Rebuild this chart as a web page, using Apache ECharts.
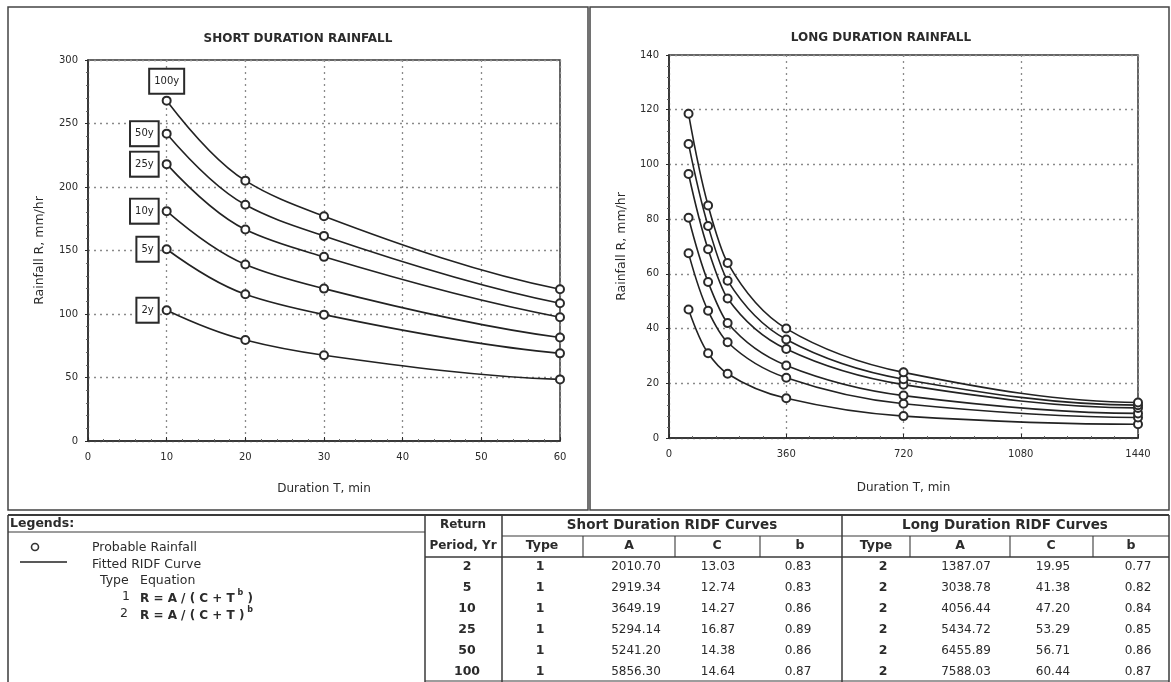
<!DOCTYPE html>
<html>
<head>
<meta charset="utf-8">
<script src="https://cdn.jsdelivr.net/npm/echarts@6/dist/echarts.min.js"></script>
<style>
  html, body { margin: 0; padding: 0; background: #fff; }
  #chart { width: 1171px; height: 682px; }
</style>
</head>
<body>
<div id="chart"></div>
<script>
// Return periods (years) and their curve labels
const periods = ['2y', '5y', '10y', '25y', '50y', '100y'];

// Short duration: durations (min) and probable rainfall intensity (mm/hr)
const shortT = [10, 20, 30, 60];
const short2y   = [103, 79.5, 67.5, 48.5];
const short5y   = [151, 115.5, 99.5, 69];
const short10y  = [181, 139, 120, 81.5];
const short25y  = [218, 166.5, 145, 97.5];
const short50y  = [242, 186, 161.5, 108.5];
const short100y = [268, 205, 177, 119.5];

// Long duration: durations (min) and probable rainfall intensity (mm/hr)
const longT = [60, 120, 180, 360, 720, 1440];
const long2y   = [47, 31, 23.5, 14.5, 8, 5];
const long5y   = [67.5, 46.5, 35, 22, 12.5, 7.5];
const long10y  = [80.5, 57, 42, 26.5, 15.5, 9];
const long25y  = [96.5, 69, 51, 32.5, 19.5, 11];
const long50y  = [107.5, 77.5, 57.5, 36, 21.5, 12];
const long100y = [118.5, 85, 64, 40, 24, 13];

// RIDF coefficient table
const returnPeriods = ['2', '5', '10', '25', '50', '100'];
const shortType = ['1', '1', '1', '1', '1', '1'];
const shortA = ['2010.70', '2919.34', '3649.19', '5294.14', '5241.20', '5856.30'];
const shortC = ['13.03', '12.74', '14.27', '16.87', '14.38', '14.64'];
const shortB = ['0.83', '0.83', '0.86', '0.89', '0.86', '0.87'];
const longType = ['2', '2', '2', '2', '2', '2'];
const longA = ['1387.07', '3038.78', '4056.44', '5434.72', '6455.89', '7588.03'];
const longC = ['19.95', '41.38', '47.20', '53.29', '56.71', '60.44'];
const longB = ['0.77', '0.82', '0.84', '0.85', '0.86', '0.87'];

const shortSets = [short2y, short5y, short10y, short25y, short50y, short100y];
const longSets = [long2y, long5y, long10y, long25y, long50y, long100y];

const FONT = '"DejaVu Sans", "Liberation Sans", sans-serif';
const INK = '#2b2b2b';
const GRID_LINE = '#8a8a8a';

function axisX(min, max, interval, gridIndex, nameGap) {
  return {
    type: 'value', gridIndex, min, max, interval,
    name: 'Duration T, min', nameLocation: 'middle', nameGap,
    nameTextStyle: { fontFamily: FONT, fontSize: 12, color: INK },
    axisLine: { show: true, lineStyle: { color: INK, width: 1.5 } },
    axisTick: { show: true, inside: true, length: 4, lineStyle: { color: INK } },
    minorTick: { show: true, splitNumber: 5, length: 2, lineStyle: { color: '#666' } },
    axisLabel: { fontFamily: FONT, fontSize: 10, color: INK, margin: 11, formatter: v => String(v) },
    splitLine: { show: true, lineStyle: { type: [2, 4], color: GRID_LINE, width: 1.3 } }
  };
}

function axisY(min, max, interval, gridIndex, nameGap) {
  return {
    type: 'value', gridIndex, min, max, interval,
    name: 'Rainfall R, mm/hr', nameLocation: 'middle', nameGap,
    nameTextStyle: { fontFamily: FONT, fontSize: 12.5, color: INK },
    axisLine: { show: true, lineStyle: { color: INK, width: 1.5 } },
    axisTick: { show: true, inside: false, length: 3, lineStyle: { color: INK } },
    minorTick: { show: true, splitNumber: 5, length: 2, lineStyle: { color: '#666' } },
    axisLabel: { fontFamily: FONT, fontSize: 10, color: INK, margin: 10, formatter: v => String(v) },
    splitLine: { show: true, lineStyle: { type: [2, 4], color: GRID_LINE, width: 1.3 } }
  };
}

// Monotone cubic (Fritsch-Carlson) path through the given pixel points
function monotonePath(p) {
  const n = p.length;
  const h = [], d = [];
  for (let i = 0; i < n - 1; i++) {
    h.push(p[i + 1][0] - p[i][0]);
    d.push((p[i + 1][1] - p[i][1]) / h[i]);
  }
  const m = new Array(n);
  for (let i = 1; i < n - 1; i++) {
    if (d[i - 1] * d[i] <= 0) { m[i] = 0; continue; }
    const w1 = 2 * h[i] + h[i - 1], w2 = h[i] + 2 * h[i - 1];
    m[i] = (w1 + w2) / (w1 / d[i - 1] + w2 / d[i]);
  }
  const endSlope = (h0, h1, d0, d1) => {
    let s = ((2 * h0 + h1) * d0 - h0 * d1) / (h0 + h1);
    if (Math.sign(s) !== Math.sign(d0)) s = 0;
    else if (Math.sign(d0) !== Math.sign(d1) && Math.abs(s) > Math.abs(3 * d0)) s = 3 * d0;
    return s;
  };
  m[0] = n > 2 ? endSlope(h[0], h[1], d[0], d[1]) : d[0];
  m[n - 1] = n > 2 ? endSlope(h[n - 2], h[n - 3], d[n - 2], d[n - 3]) : d[n - 2];
  let s = 'M' + p[0][0] + ' ' + p[0][1];
  for (let i = 0; i < n - 1; i++) {
    const k = h[i] / 3;
    s += ' C' + (p[i][0] + k) + ' ' + (p[i][1] + m[i] * k) + ' ' +
         (p[i + 1][0] - k) + ' ' + (p[i + 1][1] - m[i + 1] * k) + ' ' +
         p[i + 1][0] + ' ' + p[i + 1][1];
  }
  return s;
}

// fitted curve drawn through the points with the grid's own scales
function curveSeries(tArr, vals, gi, name) {
  return {
    type: 'custom', name, xAxisIndex: gi, yAxisIndex: gi,
    data: tArr.map((t, i) => [t, vals[i]]),
    encode: { x: 0, y: 1 },
    renderItem: (params, api) => {
      if (params.dataIndex !== 0) return null;
      const pts = tArr.map((t, i) => api.coord([t, vals[i]]));
      return {
        type: 'path',
        shape: { pathData: monotonePath(pts) },
        style: { fill: 'none', stroke: '#222', lineWidth: 1.6 }
      };
    },
    z: 2, silent: true, animation: false
  };
}

// probable rainfall points (open circles), short chart carries the period tags
function pointSeries(tArr, vals, gi, name, tag) {
  const data = tArr.map((t, i) => {
    const item = { value: [t, vals[i]] };
    if (tag && i === 0) {
      item.label = {
        show: true,
        formatter: tag,
        position: tag === '100y' ? 'top' : 'left',
        distance: tag === '100y' ? 3 : 4,
        fontFamily: FONT, fontSize: 10, color: '#222',
        backgroundColor: '#fff',
        borderColor: '#2a2a2a', borderWidth: 2,
        padding: [7, 4, 6, 4]
      };
    }
    return item;
  });
  return {
    type: 'scatter', name, xAxisIndex: gi, yAxisIndex: gi,
    data, symbol: 'emptyCircle', symbolSize: 8,
    itemStyle: { color: '#2a2a2a', borderWidth: 1.6, opacity: 1 },
    z: 3, silent: true, animation: false
  };
}

const series = [];
periods.forEach((p, k) => {
  series.push(curveSeries(shortT, shortSets[k], 0, 'short fit ' + p));
  series.push(pointSeries(shortT, shortSets[k], 0, 'short ' + p, p));
});
periods.forEach((p, k) => {
  series.push(curveSeries(longT, longSets[k], 1, 'long fit ' + p));
  series.push(pointSeries(longT, longSets[k], 1, 'long ' + p, null));
});

// ---------- frames, titles, legend and coefficient table ----------
const g = [];
const line = (x1, y1, x2, y2, w, c) => g.push({
  type: 'line', silent: true,
  shape: { x1, y1, x2, y2 },
  style: { stroke: c || '#3a3a3a', lineWidth: w || 1.2 }
});
const text = (x, y, s, opt) => g.push({
  type: 'text', silent: true, x, y,
  style: Object.assign({
    text: s, fontFamily: FONT, fontSize: 12, fill: INK,
    align: 'center', verticalAlign: 'middle'
  }, opt || {})
});

// chart panels
g.push({ type: 'rect', silent: true, shape: { x: 8, y: 7, width: 580, height: 503 },
  style: { fill: 'none', stroke: '#444', lineWidth: 1.5 } });
g.push({ type: 'rect', silent: true, shape: { x: 590, y: 7, width: 579, height: 503 },
  style: { fill: 'none', stroke: '#444', lineWidth: 1.5 } });

text(298, 39, 'SHORT DURATION RAINFALL', { fontSize: 12, fontWeight: 'bold' });
text(881, 38, 'LONG DURATION RAINFALL', { fontSize: 12, fontWeight: 'bold' });

// bottom block outline
line(8, 515, 1169, 515, 2);
line(8, 515, 8, 682, 1.5);
line(425, 515, 425, 682, 1.5);
line(1169, 515, 1169, 682, 1.5);

// legend
text(10, 524, 'Legends:', { align: 'left', fontWeight: 'bold', fontSize: 12.5 });
line(8, 532, 425, 532, 1.2);
g.push({ type: 'circle', silent: true, shape: { cx: 35, cy: 547, r: 3.5 },
  style: { fill: '#fff', stroke: '#333', lineWidth: 1.6 } });
text(92, 548, 'Probable Rainfall', { align: 'left', fontSize: 12.5 });
line(20, 562, 67, 562, 1.6, '#222');
text(92, 565, 'Fitted RIDF Curve', { align: 'left', fontSize: 12.5 });
text(100, 581, 'Type', { align: 'left', fontSize: 12.5 });
text(140, 581, 'Equation', { align: 'left', fontSize: 12.5 });
text(126, 597, '1', { fontSize: 12.5 });
text(124, 614, '2', { fontSize: 12.5 });
const eqRich = {
  m: { fontFamily: FONT, fontSize: 12, fontWeight: 'bold', fill: INK, lineHeight: 16, verticalAlign: 'bottom' },
  s: { fontFamily: FONT, fontSize: 8, fontWeight: 'bold', fill: INK, lineHeight: 16, verticalAlign: 'top', padding: [0, 0, 6, 0] }
};
g.push({ type: 'text', silent: true, x: 140, y: 597,
  style: { text: '{m|R = A / ( C + T}{s| b}{m| )}', rich: eqRich, align: 'left', verticalAlign: 'middle' } });
g.push({ type: 'text', silent: true, x: 140, y: 614,
  style: { text: '{m|R = A / ( C + T )}{s| b}', rich: eqRich, align: 'left', verticalAlign: 'middle' } });

// coefficient table grid
line(502, 515, 502, 682, 1.5);
line(842, 515, 842, 682, 1.5);
line(502, 536, 1169, 536, 1.2);
line(425, 557, 1169, 557, 1.6);
line(425, 681, 1169, 681, 1.2);
[583, 675, 760, 910, 1010, 1093].forEach(x => line(x, 536, x, 557, 1.1));

text(463, 525, 'Return', { fontSize: 12, fontWeight: 'bold' });
text(463, 546, 'Period, Yr', { fontSize: 12, fontWeight: 'bold' });
text(672, 525, 'Short Duration RIDF Curves', { fontSize: 13.5, fontWeight: 'bold' });
text(1005, 525, 'Long Duration RIDF Curves', { fontSize: 13.5, fontWeight: 'bold' });
const hdrX = [542, 629, 717, 800, 876, 960, 1051, 1131];
['Type', 'A', 'C', 'b', 'Type', 'A', 'C', 'b'].forEach((h, i) => text(hdrX[i], 546, h, { fontSize: 12.5, fontWeight: 'bold' }));

const cols = [shortType, shortA, shortC, shortB, longType, longA, longC, longB];
const colX = [540, 636, 718, 798, 883, 966, 1053, 1138];
returnPeriods.forEach((rp, r) => {
  const y = 567 + r * 21;
  text(467, y, rp, { fontSize: 12.5, fontWeight: 'bold' });
  cols.forEach((c, j) => text(colX[j], y, c[r], j === 0 || j === 4 ? { fontSize: 12.5, fontWeight: 'bold' } : { fontSize: 12 }));
});

const option = {
  backgroundColor: '#ffffff',
  animation: false,
  grid: [
    { left: 88, top: 60, width: 472, height: 381, show: true, borderColor: '#333', borderWidth: 1.5, backgroundColor: 'transparent' },
    { left: 669, top: 55, width: 469, height: 383, show: true, borderColor: '#333', borderWidth: 1.5, backgroundColor: 'transparent' }
  ],
  xAxis: [axisX(0, 60, 10, 0, 42), axisX(0, 1440, 360, 1, 44)],
  yAxis: [axisY(0, 300, 50, 0, 42), axisY(0, 140, 20, 1, 41)],
  series,
  graphic: g
};

const chart = echarts.init(document.getElementById('chart'), null, { renderer: 'canvas' });
chart.setOption(option);
</script>
</body>
</html>
